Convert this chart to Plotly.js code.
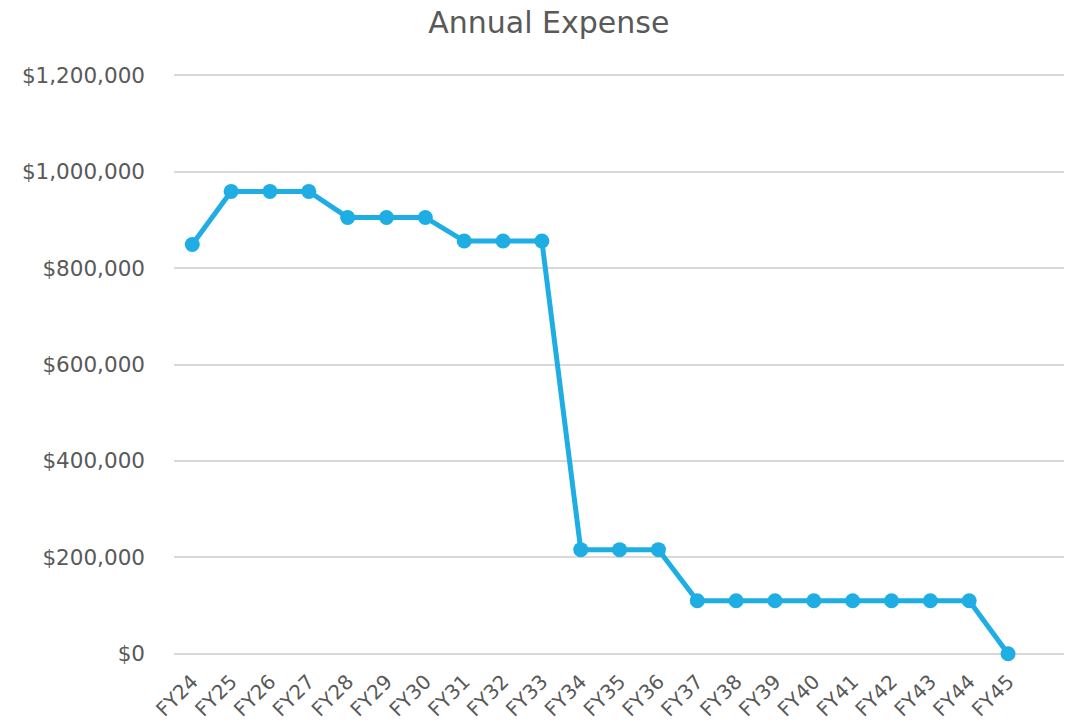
<!DOCTYPE html>
<html>
<head>
<meta charset="utf-8">
<script src="https://cdn.plot.ly/plotly-3.0.1.min.js"></script>
<style>html,body{margin:0;padding:0;background:#fff;}#chart{width:1074px;height:723px;}</style>
</head>
<body>
<div id="chart"></div>
<script>
const categories = ["FY24","FY25","FY26","FY27","FY28","FY29","FY30","FY31","FY32","FY33","FY34","FY35","FY36","FY37","FY38","FY39","FY40","FY41","FY42","FY43","FY44","FY45"];
const expense = [849000,959000,959000,959000,905000,905000,905000,856000,856000,856000,216000,216000,216000,110000,110000,110000,110000,110000,110000,110000,110000,0];
const yTicks = [0,200000,400000,600000,800000,1000000,1200000];
const yTickLabels = ["$0","$200,000","$400,000","$600,000","$800,000","$1,000,000","$1,200,000"];

const trace = {
  x: categories,
  y: expense,
  type: 'scatter',
  mode: 'lines+markers',
  line: {color: '#1FAEE3', width: 5},
  marker: {color: '#1FAEE3', size: 15},
  cliponaxis: false,
  hoverinfo: 'x+y'
};

const layout = {
  width: 1074, height: 723,
  margin: {l: 174, r: 10, t: 74, b: 68},
  paper_bgcolor: '#ffffff', plot_bgcolor: '#ffffff',
  font: {family: 'DejaVu Sans, sans-serif', color: '#595959'},
  title: {text: 'Annual Expense', x: 0.511, xref: 'container', xanchor: 'center', y: 1 - 22/723, yref: 'container', yanchor: 'middle', font: {size: 30, color: '#595959', family: 'DejaVu Sans, sans-serif'}},
  showlegend: false,
  xaxis: {
    type: 'category',
    range: [-0.47, 22.44],
    tickangle: -45,
    tickfont: {size: 20, color: '#595959'},
    showgrid: false, zeroline: false, showline: false,
    ticks: '', ticklen: 0, ticklabelstandoff: 10
  },
  yaxis: {
    range: [-2500, 1202500],
    tickvals: yTicks,
    ticktext: yTickLabels,
    tickfont: {size: 21.5, color: '#595959'},
    showgrid: true, gridcolor: '#D9D9D9', gridwidth: 1.5,
    zeroline: false, showline: false,
    ticks: '', ticklabelstandoff: 28
  }
};

Plotly.newPlot('chart', [trace], layout, {displayModeBar: false, responsive: false});
</script>
</body>
</html>
